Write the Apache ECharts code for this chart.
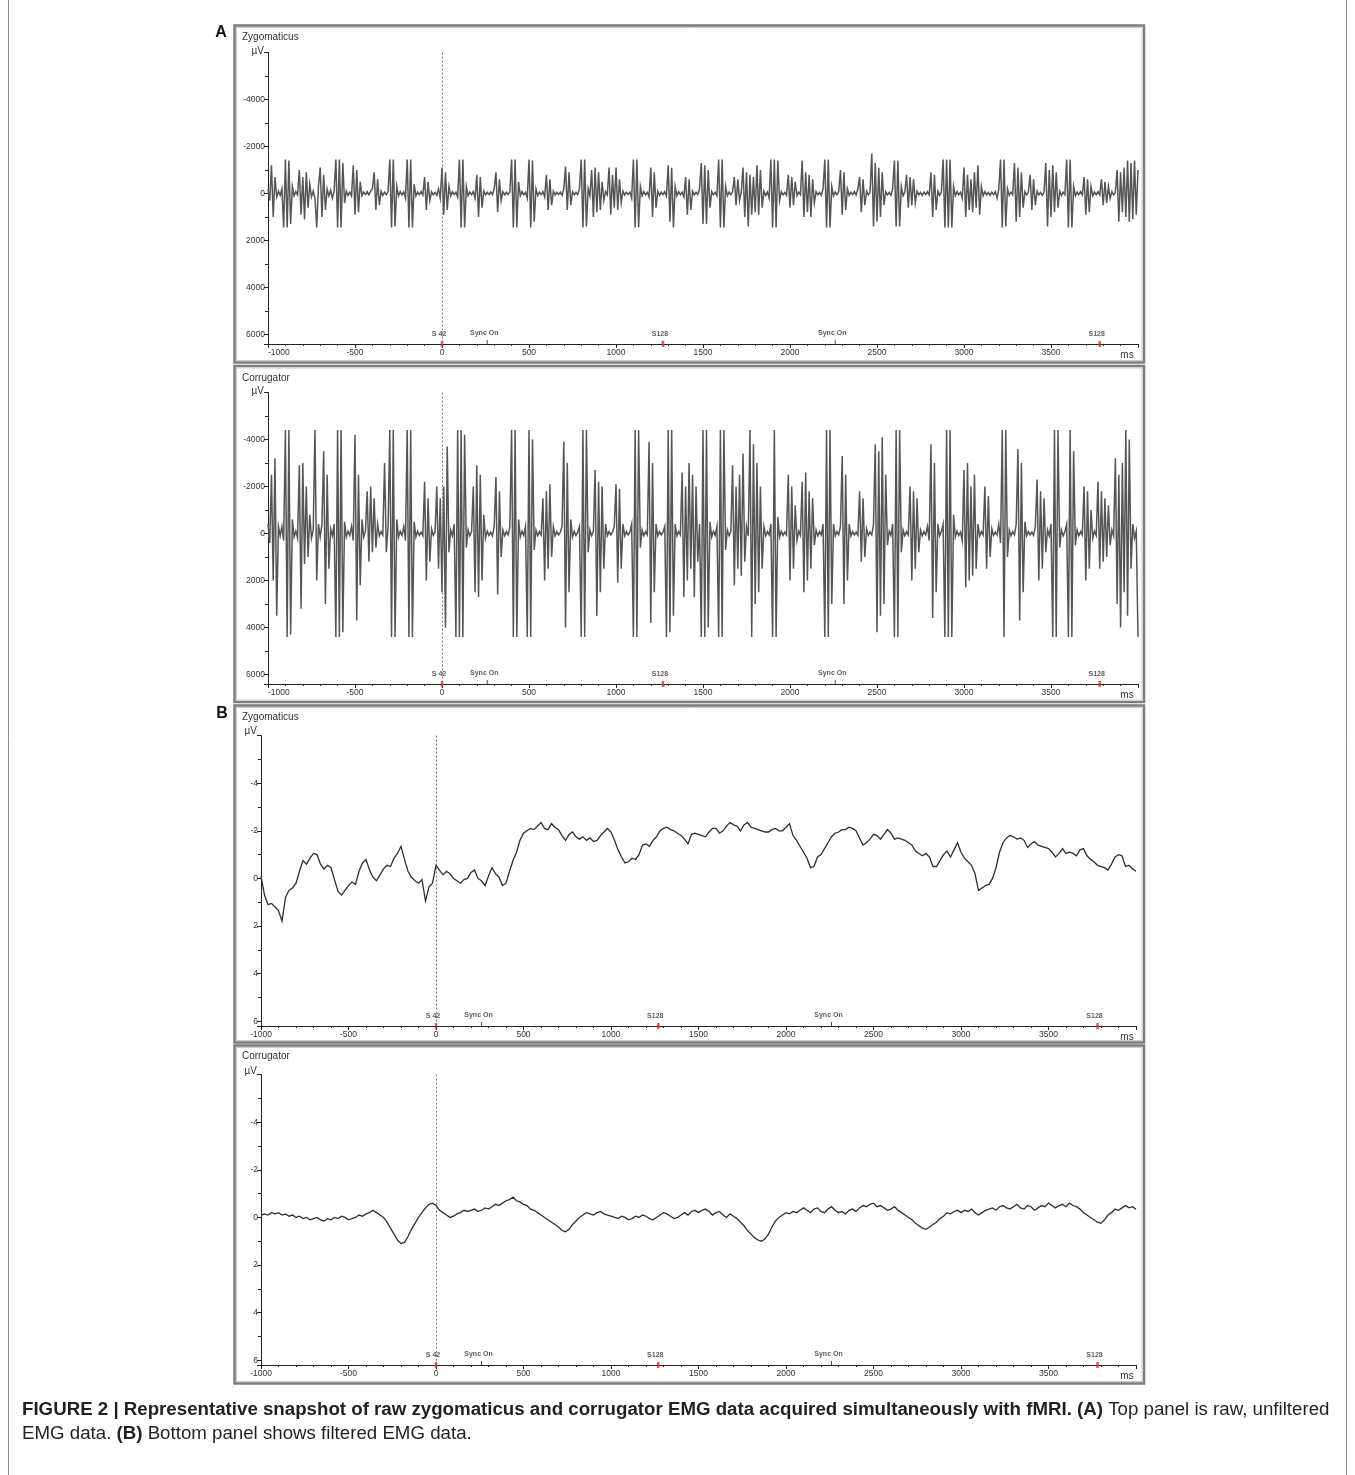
<!DOCTYPE html>
<html><head><meta charset="utf-8">
<script src="https://cdn.jsdelivr.net/npm/echarts@6/dist/echarts.min.js"></script>
<style>html,body{margin:0;padding:0;background:#fff}#c{width:1355px;height:1475px}</style>
</head><body><div id="c"></div>
<script>
// ---- sampling (ms) ----
const startMs = -1000, rawStepMs = 10, filtStepMs = 20;

// ---- A: raw zygomaticus EMG (µV), one value per 10 ms from -1000 ms ----
const zygRaw = [
-200,300,-1200,1000,-700,150,-100,80,-200,1450,
-1450,1450,-1400,1300,-300,100,-80,60,-1000,900,
-700,1100,-900,600,-400,150,-100,200,1450,-300,
-1100,1000,-800,700,-200,100,-150,200,-100,-1450,
1450,-1450,1450,-1300,400,-100,80,-60,100,-1200,
900,-1000,800,-500,100,-60,50,-80,60,-100,
-200,-900,700,-600,500,-100,80,-60,50,-80,
-1450,1450,-1450,1400,-300,100,-80,60,-70,200,
-1450,1450,-1450,1450,-400,100,-60,50,-80,60,
-700,700,-500,300,-80,60,-50,80,-200,200,
-1100,900,-900,700,-300,100,-80,50,-60,150,
-1450,1450,-1450,1450,-300,100,-60,50,-80,200,
-800,1000,-700,600,-100,60,-50,40,-60,50,
-200,-900,800,-600,300,-80,60,-50,40,-60,
-1450,1450,-1450,1450,-500,100,-80,60,-50,200,
-1450,1450,-1400,1200,-200,80,-60,50,-80,150,
-800,700,-600,500,-100,60,-50,40,-60,80,
-200,-1150,700,-900,500,-80,60,-50,40,-200,
-1450,1450,-1450,1400,-200,100,-1000,1000,-1100,800,
-900,700,-500,300,-80,60,-1100,900,-800,600,
-1100,700,-600,400,-100,60,-50,40,-60,200,
-1450,1450,-1450,1450,-300,100,-80,60,-50,150,
-1100,1000,-900,600,-100,80,-60,50,-80,100,
-1200,1200,-1100,1450,-300,100,-80,50,-60,150,
-700,900,-600,700,-100,60,-50,40,-200,-1300,
1300,-1200,1300,-1000,600,-80,60,-50,100,-1450,
1450,-1450,1450,-300,100,-60,50,-80,-700,500,
-600,300,-80,-1100,1000,-900,1400,-800,900,-700,
800,-1200,900,-1000,600,-100,80,-60,200,-1450,
1450,-1450,1450,-1400,300,-80,60,-50,80,-800,
600,-700,500,-500,100,-60,50,-1400,1000,-900,
800,-800,1000,-600,400,-80,60,-50,80,-200,
-1450,1450,-1450,1450,-300,100,-60,50,-80,-1000,
900,-900,700,-200,80,-60,50,-80,60,-200,
-700,800,-600,500,-100,60,-50,-1700,1400,-1300,
1200,-1100,1000,-900,500,-80,60,-50,80,-200,
-1400,1400,-1400,1400,-300,100,-60,-800,600,-700,
500,-600,400,-100,60,-50,80,-60,50,-80,
60,-900,1000,-800,700,-100,80,-60,-1450,1450,
-1450,1450,-1450,1450,-300,100,-80,60,-50,200,
-1100,1000,-800,700,-600,800,-900,600,-1200,900,
-300,100,-80,60,-50,80,-60,50,-80,200,
-200,-1450,1450,-1450,1400,-200,80,-60,50,-1300,
1200,-1100,1000,-900,600,-80,60,-50,-800,700,
-600,500,-100,60,-50,80,-60,-1300,1400,-1000,
1000,-1200,800,-900,600,-100,80,-60,50,-1450,
1450,-1450,1450,-300,100,-60,50,-80,60,-700,
900,-600,800,-300,100,-60,50,-80,60,-600,
500,-500,400,-300,200,-80,60,-50,-1000,1200,
-900,800,-1100,1000,-1400,1200,-1300,1100,-1400,900,
-1000
];

// ---- A: raw corrugator EMG (µV), one value per 10 ms from -1000 ms ----
const corRaw = [
-400,400,-2500,2000,-3200,3500,-300,100,-300,300,
-4400,4400,-4400,4300,-600,150,-100,200,-2900,3200,
-3000,1300,-2000,1000,-800,200,-150,-4400,2000,-400,
150,-400,-3500,3000,-2500,1500,-200,100,-400,4400,
-4400,4400,-4400,4200,-500,150,-100,80,-300,300,
-4200,3700,-2500,2200,-600,150,-100,-1800,1200,-2000,
800,-1500,600,-400,100,-80,60,-3000,800,-300,
-4400,4400,-4400,4400,-600,150,-100,80,-300,300,
-4400,4400,-4400,4400,-500,150,-100,80,-60,100,
-2200,2000,-1500,1200,-200,80,-60,-2000,1500,-1500,
2500,-2000,4000,-3700,800,-150,100,-400,4400,-4400,
4400,-4400,4400,-4200,600,-150,100,-80,-2000,2500,
-2900,2700,-2500,2000,-800,200,-100,80,-60,100,
-300,-2400,2600,-1800,1000,-150,100,-80,60,-300,
-4400,4400,-4400,4400,-600,150,-100,80,-300,4400,
-4400,4400,-4000,700,-150,100,-80,60,-1500,2000,
-1800,1500,-2100,1000,-300,100,-80,60,-60,-300,
-3900,4000,-3000,2500,-600,150,-100,80,-60,-300,
4400,-4400,4400,-4400,800,-150,100,-80,-2700,3500,
-2200,2500,-2000,1500,-400,100,-80,60,-60,-300,
-2100,2100,-1900,1500,-400,100,-80,60,-60,-400,
4400,-4400,4400,-4400,600,-150,100,-80,60,-3900,
3800,-3000,2500,-400,100,-80,60,-60,-300,4400,
-4400,4200,-4400,3500,-400,100,-80,60,-2600,2700,
-2000,2000,-3000,1500,-2500,2700,-2000,1200,-400,4400,
-4400,4400,-4400,4000,-500,150,-100,80,-300,4400,
-4400,4400,-4400,700,-150,100,-80,-2900,2200,-2000,
1500,-2500,1800,-3400,1200,-300,100,-4400,4400,-3800,
3000,-3000,2500,-2000,1500,-300,100,-80,60,-400,
4400,-4400,4400,-700,150,-100,80,-60,60,-2500,
2000,-2000,1500,-1200,300,-100,80,-2200,2500,-2600,
2000,-1800,1500,-1500,500,-150,100,-80,60,-400,
4400,-4400,4400,-4400,3000,-400,100,-80,60,-300,
-3300,3000,-2500,2000,-400,100,-80,60,-60,80,
-1800,1200,-1500,1000,-200,80,-60,60,-400,-3800,
4200,-3500,3500,-4100,3000,-2500,500,-100,80,-400,
4400,-4400,4400,-4400,800,-150,100,-80,60,-2000,
2000,-1800,1500,-1500,800,-150,100,-80,60,-300,
300,-3800,3600,-3000,2500,-400,100,-80,-400,4400,
-4400,4400,-4400,4400,-800,150,-100,80,-60,300,
-2700,2300,-3000,2000,-2000,1800,-2500,1500,-400,100,
-80,60,-2000,1500,-1600,1000,-200,80,-60,60,
-400,400,-4400,4400,-4400,1000,-150,100,-80,60,
-400,-3600,3700,-3000,2500,-500,100,-80,60,-60,
80,-300,-2300,2000,-1800,1500,-1500,800,-150,100,
-400,4400,-4400,4400,-4400,600,-150,100,-80,-400,
4400,-4400,4400,-3500,500,-150,100,-80,60,-2000,
2000,-1800,1500,-1000,200,-100,80,-2200,1500,-1800,
1200,-1500,1000,-1200,500,-150,100,-3200,3000,-2500,
4000,-3000,2500,-4400,3500,-4000,1500,-400,200,-100,
4400
];

// ---- B: filtered zygomaticus (µV), one value per 20 ms from -1000 ms ----
const zygFilt = [
-0.1,0.7,1.1,1.05,1.2,1.35,1.8,0.8,0.5,0.4,
0.2,-0.3,-0.75,-0.6,-0.85,-1.05,-1.0,-0.6,-0.4,-0.55,
-0.45,0.05,0.55,0.7,0.5,0.3,0.15,0.25,-0.3,-0.65,
-0.8,-0.35,-0.05,0.1,-0.15,-0.4,-0.55,-0.5,-0.85,-1.05,
-1.35,-0.8,-0.3,-0.05,0.1,0.2,0.05,0.95,0.35,0.2,
-0.55,-0.35,-0.15,-0.3,-0.2,0.0,0.1,0.2,0.05,0.0,
-0.25,-0.35,0.0,0.1,0.3,-0.1,-0.45,-0.2,-0.05,0.3,
0.2,-0.3,-0.75,-1.1,-1.6,-1.9,-2.0,-2.1,-2.05,-2.2,
-2.35,-2.1,-2.05,-2.3,-2.15,-2.05,-1.8,-1.6,-1.85,-1.95,
-1.75,-1.65,-1.75,-1.6,-1.7,-1.55,-1.6,-1.8,-1.95,-2.1,
-1.95,-1.6,-1.2,-0.9,-0.65,-0.7,-0.85,-0.8,-1.0,-1.4,
-1.45,-1.35,-1.6,-1.75,-2.0,-2.1,-2.15,-2.05,-2.0,-1.9,
-1.8,-1.65,-1.45,-1.85,-1.9,-1.85,-1.8,-1.75,-1.95,-2.1,
-2.1,-1.9,-2.0,-2.2,-2.35,-2.25,-2.2,-2.0,-2.25,-2.35,
-2.15,-2.1,-2.05,-2.0,-1.95,-1.95,-2.05,-2.1,-2.0,-2.0,
-2.15,-2.3,-1.8,-1.6,-1.35,-1.1,-0.85,-0.45,-0.5,-0.9,
-1.0,-1.25,-1.5,-1.75,-1.9,-1.95,-2.05,-2.05,-2.15,-2.1,
-2.0,-1.7,-1.4,-1.5,-1.65,-1.85,-1.8,-1.65,-1.85,-2.05,
-1.9,-1.65,-1.7,-1.65,-1.6,-1.5,-1.4,-1.15,-1.05,-0.95,
-1.05,-0.9,-0.5,-0.5,-0.75,-1.0,-1.15,-0.9,-1.2,-1.5,
-1.1,-0.85,-0.7,-0.55,-0.2,0.5,0.4,0.3,0.25,0.0,
-0.45,-1.1,-1.5,-1.7,-1.8,-1.75,-1.65,-1.7,-1.6,-1.3,
-1.45,-1.55,-1.4,-1.35,-1.3,-1.25,-1.1,-0.9,-1.05,-1.25,
-1.05,-1.1,-1.05,-0.95,-1.2,-1.25,-0.95,-0.8,-0.7,-0.55,
-0.5,-0.45,-0.35,-0.6,-0.9,-1.0,-0.95,-0.5,-0.55,-0.4,
-0.3
];

// ---- B: filtered corrugator (µV), one value per 20 ms from -1000 ms ----
const corFilt = [
-0.1,-0.15,-0.1,-0.2,-0.15,-0.2,-0.1,-0.15,-0.05,-0.1,
0.0,-0.05,0.05,0.0,0.1,0.05,0.0,0.1,0.15,0.05,
0.1,0.0,0.05,-0.05,0.0,0.1,0.05,0.0,-0.1,-0.05,
-0.15,-0.2,-0.3,-0.2,-0.1,0.0,0.2,0.45,0.7,0.95,
1.1,1.05,0.8,0.5,0.25,0.0,-0.2,-0.4,-0.55,-0.6,
-0.5,-0.3,-0.2,-0.1,0.0,-0.05,-0.15,-0.2,-0.3,-0.25,
-0.3,-0.35,-0.25,-0.3,-0.4,-0.35,-0.45,-0.55,-0.5,-0.6,
-0.7,-0.75,-0.85,-0.7,-0.65,-0.55,-0.5,-0.35,-0.3,-0.2,
-0.1,0.0,0.1,0.2,0.3,0.4,0.55,0.6,0.5,0.3,
0.15,0.0,-0.1,-0.2,-0.15,-0.1,-0.2,-0.25,-0.15,-0.1,
-0.05,0.0,0.05,-0.05,0.0,0.1,0.05,-0.05,0.0,-0.1,
-0.05,0.05,0.1,0.0,-0.1,-0.2,-0.15,-0.05,0.05,0.0,
-0.1,-0.2,-0.1,-0.25,-0.3,-0.2,-0.3,-0.35,-0.25,-0.1,
-0.2,-0.25,-0.1,0.0,-0.15,-0.05,0.05,0.2,0.35,0.55,
0.7,0.85,0.95,1.0,0.9,0.7,0.4,0.15,0.0,-0.1,
-0.2,-0.15,-0.25,-0.2,-0.3,-0.4,-0.3,-0.2,-0.35,-0.4,
-0.25,-0.2,-0.35,-0.45,-0.3,-0.2,-0.25,-0.15,-0.3,-0.35,
-0.25,-0.4,-0.5,-0.45,-0.55,-0.6,-0.45,-0.5,-0.4,-0.3,
-0.35,-0.45,-0.3,-0.2,-0.1,0.0,0.1,0.25,0.35,0.45,
0.5,0.4,0.3,0.2,0.05,-0.05,-0.2,-0.15,-0.25,-0.3,
-0.2,-0.3,-0.25,-0.35,-0.2,-0.1,-0.2,-0.3,-0.35,-0.4,
-0.3,-0.45,-0.5,-0.4,-0.35,-0.45,-0.55,-0.4,-0.35,-0.5,
-0.45,-0.3,-0.4,-0.5,-0.45,-0.6,-0.5,-0.4,-0.5,-0.55,
-0.45,-0.6,-0.5,-0.45,-0.35,-0.2,-0.1,0.0,0.1,0.2,
0.25,0.1,-0.1,-0.2,-0.35,-0.3,-0.4,-0.5,-0.4,-0.45,
-0.35
];

// ---- axes / ticks / markers ----
const xTickLabels = [-1000,-500,0,500,1000,1500,2000,2500,3000,3500];
const rawYTickLabels = [-4000,-2000,0,2000,4000,6000];
const filtYTickLabels = [-4,-2,0,2,4,6];
const markerTimes = [0,260,1270,2260,3780];
const markerNames = ['S 42','Sync On','S128','Sync On','S128'];
const markerKinds = ['stim','sync','stim','sync','stim'];
const panelNames = ['Zygomaticus','Corrugator','Zygomaticus','Corrugator'];
const unitLabel = 'µV';
const timeUnit = 'ms';

const FONT = 'Liberation Sans, Arial, sans-serif';
const chart = echarts.init(document.getElementById('c'), null, {renderer:'canvas'});

const panels = [
  {grid:{left:268, top:52.5, width:870, height:291.4}, raw:true, data:zygRaw, step:rawStepMs, color:'#555555', lw:1.5, alignLeft:true},
  {grid:{left:268, top:392.5, width:870, height:291.4}, raw:true, data:corRaw, step:rawStepMs, color:'#555555', lw:1.5, alignLeft:true},
  {grid:{left:261, top:735.6, width:875, height:290.4}, raw:false, data:zygFilt, step:filtStepMs, color:'#2e2e2e', lw:1.3, alignLeft:false},
  {grid:{left:261, top:1074.6, width:875, height:290.4}, raw:false, data:corFilt, step:filtStepMs, color:'#2e2e2e', lw:1.3, alignLeft:false}
];

const grid = [], xAxis = [], yAxis = [], series = [];
panels.forEach((p, i) => {
  grid.push(p.grid);
  const yMin = p.raw ? -6000 : -6, yMax = p.raw ? 6400 : 6.2, yInt = p.raw ? 2000 : 2;
  const yLabels = p.raw ? rawYTickLabels : filtYTickLabels;
  xAxis.push({
    type:'value', gridIndex:i, min:-1000, max:4000, interval:500,
    axisLine:{onZero:false, lineStyle:{color:'#222', width:1}},
    axisTick:{length:4, lineStyle:{color:'#222'}},
    minorTick:{show:true, splitNumber:5, length:2, lineStyle:{color:'#222'}},
    splitLine:{show:false}, minorSplitLine:{show:false},
    axisLabel:{fontSize:8.5, color:'#333', margin:4, fontFamily:FONT,
      alignMinLabel: p.alignLeft ? 'left' : 'center',
      formatter: v => xTickLabels.includes(v) ? String(v) : ''}
  });
  yAxis.push({
    type:'value', gridIndex:i, inverse:true, min:yMin, max:yMax, interval:yInt,
    axisLine:{show:true, onZero:false, lineStyle:{color:'#222', width:1}},
    axisTick:{show:true, length:4, lineStyle:{color:'#222'}},
    minorTick:{show:true, splitNumber:2, length:3, lineStyle:{color:'#222'}},
    splitLine:{show:false}, minorSplitLine:{show:false},
    axisLabel:{fontSize:8.5, color:'#333', margin:3, fontFamily:FONT,
      formatter: v => yLabels.includes(v) ? String(v) : ''}
  });
  series.push({
    type:'line', xAxisIndex:i, yAxisIndex:i, silent:true, animation:false,
    showSymbol:false, symbol:'none', clip:true,
    data: p.data.map((v, k) => [startMs + k * p.step, v]),
    lineStyle:{color:p.color, width:p.lw, join:'miter'},
    markLine:{symbol:['none','none'], silent:true, animation:false, label:{show:false},
      lineStyle:{type:[2,2], color:'#777', width:1}, data:[{xAxis:0}]}
  });
  series.push({
    type:'scatter', xAxisIndex:i, yAxisIndex:i, silent:true, animation:false, clip:false,
    data: markerTimes.map((t, k) => {
      const stim = markerKinds[k] === 'stim';
      return {
        value:[t, yMax],
        symbol:'rect',
        symbolSize: stim ? [2.5, 6] : [1, 4],
        symbolOffset: stim ? [0, 0] : [0, -2],
        itemStyle:{color: stim ? '#d9302a' : '#222'},
        label:{show:true, position:'top', distance:3, offset:[-3, 0],
          formatter: markerNames[k], fontSize:7, fontWeight:'bold', color:'#333', fontFamily:FONT}
      };
    })
  });
});

// decorations
const graphic = [];
const frame = (x, y, w, h) => {
  graphic.push({type:'rect', shape:{x, y, width:w, height:h}, style:{fill:'none', stroke:'#7d7d7d', lineWidth:2.5}, silent:true});
  graphic.push({type:'rect', shape:{x:x+2, y:y+2, width:w-4, height:h-4}, style:{fill:'none', stroke:'#c9c9c9', lineWidth:1}, silent:true});
};
frame(234.5, 25.5, 909.5, 337);
frame(234.5, 366, 909.5, 336);
frame(234.5, 705.5, 909.5, 337);
frame(234.5, 1045.5, 909.5, 338);

// outer figure border
graphic.push({type:'line', shape:{x1:8.5, y1:0, x2:8.5, y2:1475}, style:{stroke:'#8a8a8a', lineWidth:1}, silent:true});
graphic.push({type:'line', shape:{x1:1346.5, y1:0, x2:1346.5, y2:1475}, style:{stroke:'#8a8a8a', lineWidth:1}, silent:true});

const txt = (x, y, text, opt) => graphic.push({type:'text', x, y, silent:true,
  style:Object.assign({text, fill:'#333', font:'10px ' + FONT, textAlign:'left', textVerticalAlign:'middle'}, opt || {})});

txt(221, 33, 'A', {font:'bold 16px ' + FONT, fill:'#111', textAlign:'center'});
txt(222, 714, 'B', {font:'bold 16px ' + FONT, fill:'#111', textAlign:'center'});

const nameY = [37, 378, 717, 1056];
const unitPos = [[264, 51], [264, 391], [257, 731], [257, 1071]];
const msY = [355, 695, 1037, 1376];
panelNames.forEach((n, i) => {
  txt(242, nameY[i], n, {font:'10px ' + FONT});
  txt(unitPos[i][0], unitPos[i][1], unitLabel, {font:'10px ' + FONT, textAlign:'right'});
  txt(1127, msY[i], timeUnit, {font:'10px ' + FONT, textAlign:'center'});
});

// caption
const CAP = 18.7;
graphic.push({type:'text', x:22, y:1410, silent:true, style:{
  text:'{b|FIGURE 2 | Representative snapshot of raw zygomaticus and corrugator EMG data acquired simultaneously with fMRI. (A)}{n| Top panel is raw, unfiltered}',
  textVerticalAlign:'middle', textAlign:'left',
  rich:{b:{fontFamily:FONT, fontSize:CAP, fontWeight:'bold', fill:'#231f20'}, n:{fontFamily:FONT, fontSize:CAP, fill:'#231f20'}}
}});
graphic.push({type:'text', x:22, y:1434, silent:true, style:{
  text:'{n|EMG data. }{b|(B)}{n| Bottom panel shows filtered EMG data.}',
  textVerticalAlign:'middle', textAlign:'left',
  rich:{b:{fontFamily:FONT, fontSize:CAP, fontWeight:'bold', fill:'#231f20'}, n:{fontFamily:FONT, fontSize:CAP, fill:'#231f20'}}
}});

chart.setOption({
  backgroundColor:'#ffffff',
  animation:false,
  textStyle:{fontFamily:FONT},
  grid, xAxis, yAxis, series, graphic
});
</script></body></html>
